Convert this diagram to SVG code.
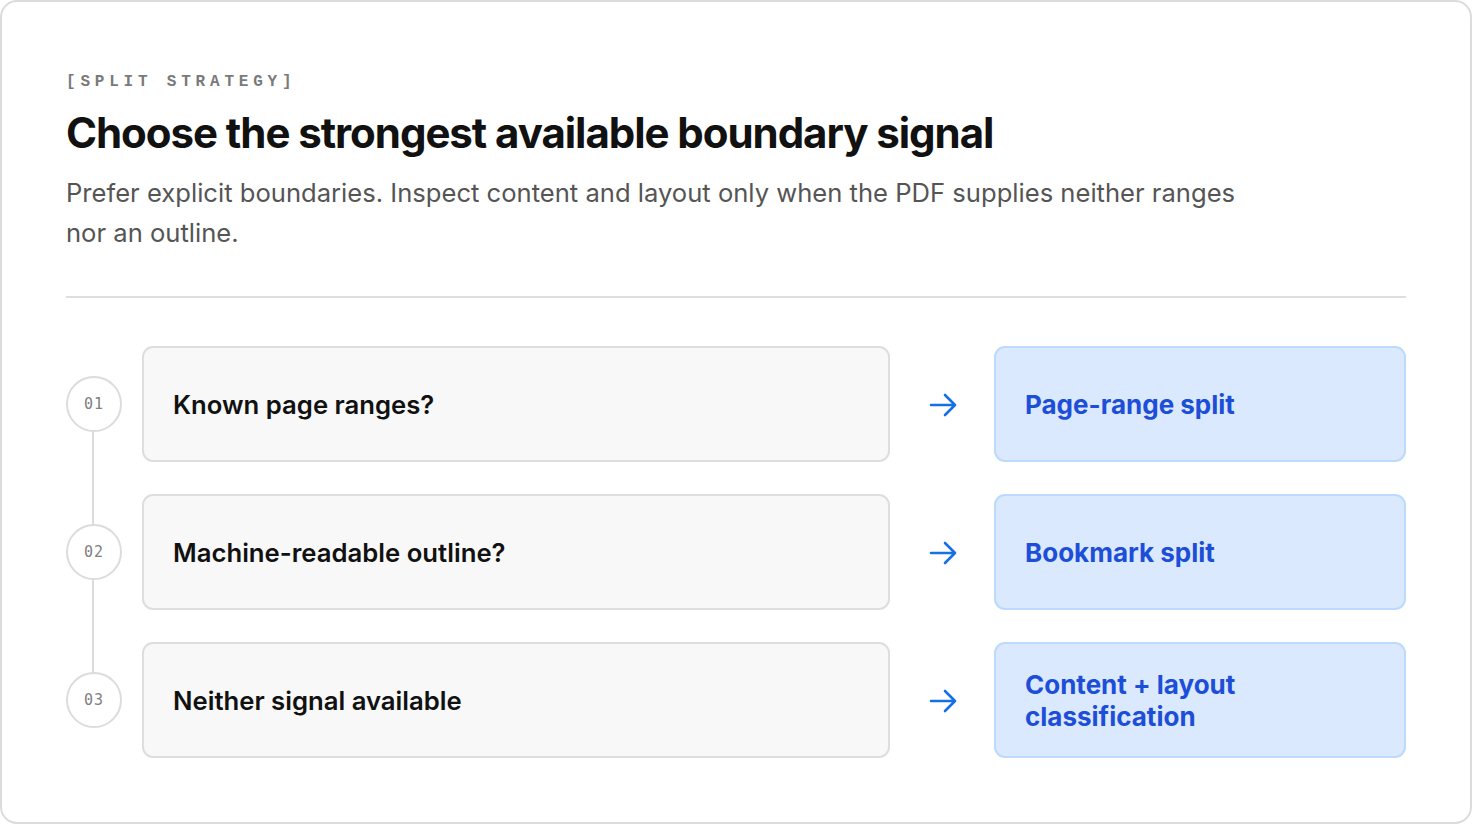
<svg xmlns="http://www.w3.org/2000/svg" width="1472" height="826" viewBox="0 0 1472 826">
<defs>
<style>
.card{fill:#ffffff;stroke:#dcdcdc;stroke-width:2}
.q{fill:#f8f8f8;stroke:#dedede;stroke-width:2}
.a{fill:#dbe9fe;stroke:#bddafc;stroke-width:2}
.num{fill:#ffffff;stroke:#dcdcdc;stroke-width:2}
.rail{stroke:#dcdcdc;stroke-width:2}
.arr{fill:none;stroke:#1570e8;stroke-width:2.6;stroke-linecap:round;stroke-linejoin:round}
.eyebrow{font-family:"Liberation Mono",monospace;font-weight:bold;font-size:16px;letter-spacing:4.8px;fill:#7a7a7a}
.title{font-family:Inter,"Liberation Sans",sans-serif;font-weight:700;font-size:42px;letter-spacing:-1.05px;fill:#111111}
.sub{font-family:Inter,"Liberation Sans",sans-serif;font-size:25.6px;fill:#555555}
.qt{font-family:Inter,"Liberation Sans",sans-serif;font-weight:600;font-size:25.7px;fill:#111111}
.at{font-family:Inter,"Liberation Sans",sans-serif;font-weight:700;font-size:26px;fill:#1d4ed8}
.nt{font-family:"DejaVu Sans Mono","Liberation Mono",monospace;font-size:15px;fill:#808080;letter-spacing:1px}
</style>
</defs>
<rect class="card" x="1" y="1" width="1470" height="822" rx="16"/>
<text class="eyebrow" x="66" y="86">[SPLIT STRATEGY]</text>
<text class="title" x="66" y="148">Choose the strongest available boundary signal</text>
<text class="sub" x="66" y="202">Prefer explicit boundaries. Inspect content and layout only when the PDF supplies neither ranges</text>
<text class="sub" x="66" y="242">nor an outline.</text>
<line x1="66" y1="297" x2="1406" y2="297" stroke="#dedede" stroke-width="2"/>
<g id="connectors">
<line class="rail" x1="93" y1="431" x2="93" y2="525"/>
<line class="rail" x1="93" y1="579" x2="93" y2="673"/>
<path class="arr" d="M931 405 H955 M945 395 L955 405 L945 415"/>
<path class="arr" d="M931 553 H955 M945 543 L955 553 L945 563"/>
<path class="arr" d="M931 701 H955 M945 691 L955 701 L945 711"/>
</g>
<g id="step1">
<circle class="num" cx="94" cy="404" r="27"/>
<text class="nt" x="94" y="409" text-anchor="middle">01</text>
</g>
<g id="q1">
<rect class="q" x="143" y="347" width="746" height="114" rx="10"/>
<text class="qt" x="173" y="414">Known page ranges?</text>
</g>
<g id="a1">
<rect class="a" x="995" y="347" width="410" height="114" rx="10"/>
<text class="at" x="1025" y="414">Page-range split</text>
</g>
<g id="step2">
<circle class="num" cx="94" cy="552" r="27"/>
<text class="nt" x="94" y="557" text-anchor="middle">02</text>
</g>
<g id="q2">
<rect class="q" x="143" y="495" width="746" height="114" rx="10"/>
<text class="qt" x="173" y="562">Machine-readable outline?</text>
</g>
<g id="a2">
<rect class="a" x="995" y="495" width="410" height="114" rx="10"/>
<text class="at" x="1025" y="562">Bookmark split</text>
</g>
<g id="step3">
<circle class="num" cx="94" cy="700" r="27"/>
<text class="nt" x="94" y="705" text-anchor="middle">03</text>
</g>
<g id="q3">
<rect class="q" x="143" y="643" width="746" height="114" rx="10"/>
<text class="qt" x="173" y="710">Neither signal available</text>
</g>
<g id="a3">
<rect class="a" x="995" y="643" width="410" height="114" rx="10"/>
<text class="at" x="1025" y="694">Content + layout</text>
<text class="at" x="1025" y="726">classification</text>
</g>
</svg>
